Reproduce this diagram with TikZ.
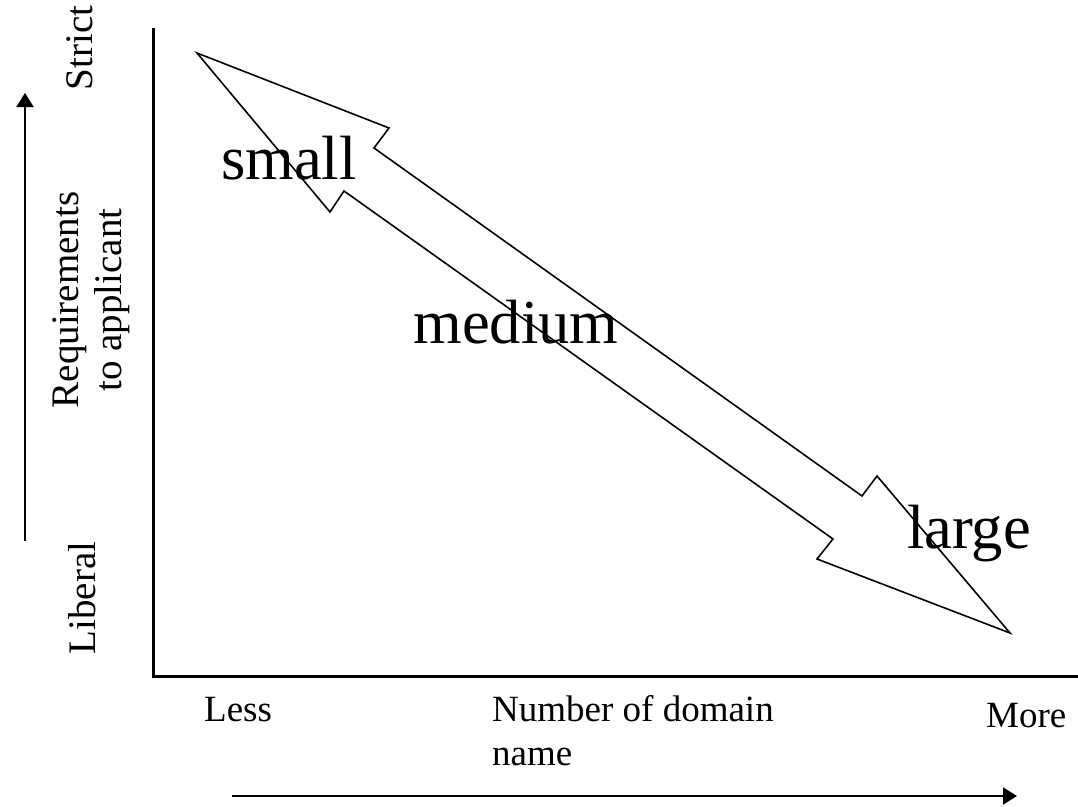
\documentclass[tikz,border=0pt]{standalone}
\usepackage{fontspec}
\setmainfont{Liberation Serif}
\usetikzlibrary{arrows.meta}
\begin{document}
\begin{tikzpicture}[x=1pt,y=-1pt,
  axisline/.style={line width=2.6pt},
  dirarrow/.style={line width=2pt,-{Triangle[length=14pt,width=17pt]}},
  blockarrow/.style={line width=1.6pt,fill=white,line join=miter},
  biglabel/.style={font=\fontsize{62.5}{70}\selectfont,inner sep=0pt,anchor=base},
  smalllabel/.style={font=\fontsize{37}{44}\selectfont,inner sep=0pt,anchor=base west,align=left},
  vlabel/.style={font=\fontsize{39}{43}\selectfont,inner sep=0pt,rotate=90,align=center}]
\useasboundingbox (0,0) rectangle (1078,806);
% axes
\coordinate (O) at (153.3,676.7);
\coordinate (Ytop) at (153.3,28);
\coordinate (Xend) at (1078,676.7);
\draw[axisline] (Ytop) -- (O) -- (Xend);
% block double arrow
\coordinate (A) at (197,53);
\coordinate (B) at (389,128);
\coordinate (C) at (374,148);
\coordinate (D) at (862,496);
\coordinate (E) at (877,476);
\coordinate (F) at (1010,633);
\coordinate (G) at (817,559);
\coordinate (H) at (833,539);
\coordinate (I) at (344,191);
\coordinate (J) at (330,212);
\draw[blockarrow] (A) -- (B) -- (C) -- (D) -- (E) -- (F) -- (G) -- (H) -- (I) -- (J) -- cycle;
% big labels
\node[biglabel] (small) at (289,179) {small};
\node[biglabel] (medium) at (516,343) {medium};
\node[biglabel] (large) at (969,548) {large};
% vertical labels
\node[vlabel] (strict) at (80,48) {Strict};
\node[vlabel] (req) at (91,300) {Requirements\\to applicant};
\node[vlabel] (liberal) at (82,598) {Liberal};
% horizontal labels
\node[smalllabel] (less) at (204,721.5) {Less};
\node[smalllabel] (num) at (492,765) {Number of domain\\name};
\node[smalllabel] (more) at (986,727.5) {More};
% direction arrows
\coordinate (vb) at (25,541);
\coordinate (vt) at (25,93);
\draw[dirarrow] (vb) -- (vt);
\coordinate (hl) at (232,796);
\coordinate (hr) at (1017,796);
\draw[dirarrow] (hl) -- (hr);
\end{tikzpicture}
\end{document}
